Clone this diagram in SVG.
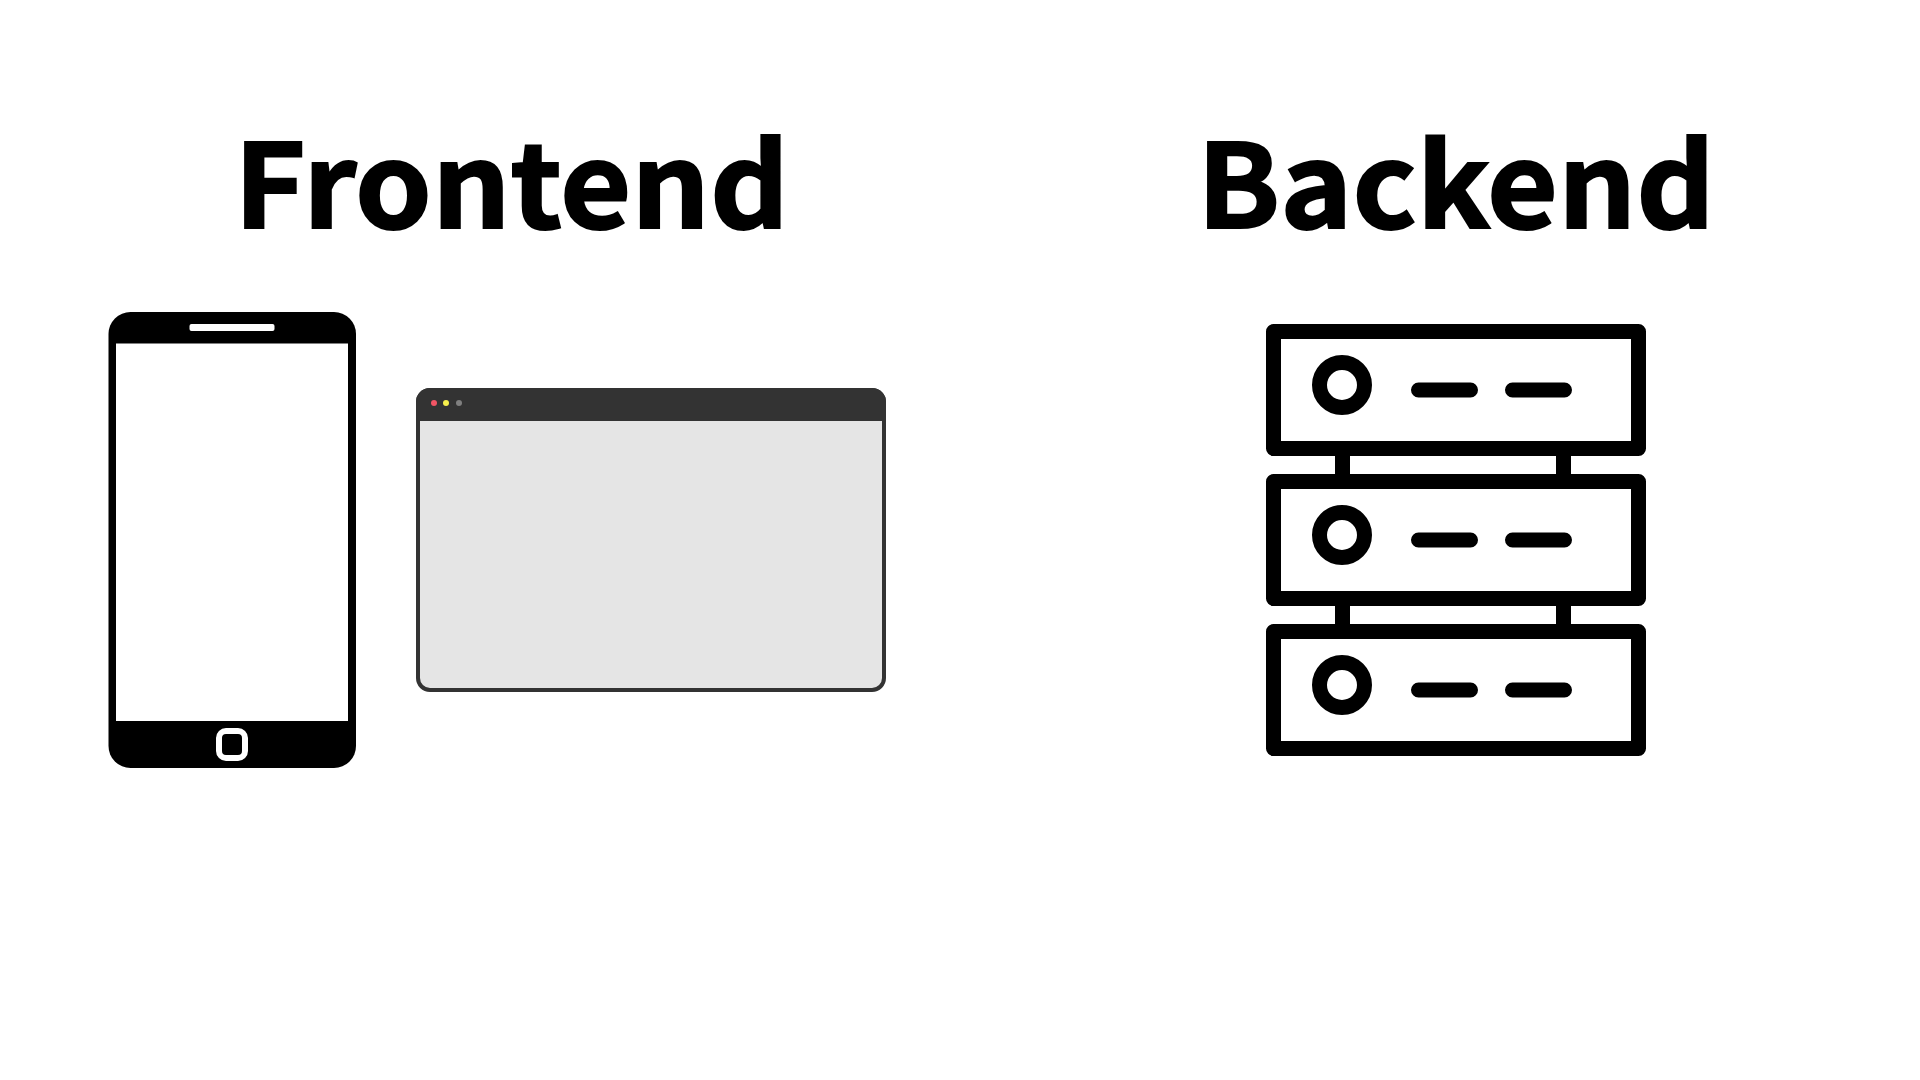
<svg xmlns="http://www.w3.org/2000/svg" width="1920" height="1080" viewBox="0 0 1920 1080">
<style>
.title{font-family:"Noto Sans CJK SC","Noto Sans",sans-serif;font-weight:700;font-size:116px;fill:#000;stroke:#000;stroke-width:2}
.box{fill:#fff;stroke:#000;stroke-width:15;stroke-linejoin:round}
.led{fill:#fff;stroke:#000;stroke-width:15}
.dash{fill:none;stroke:#000;stroke-width:15;stroke-linecap:round}
.link{fill:#000}
</style>
<rect width="1920" height="1080" fill="#fff"/>
<g id="frontend-title"><text class="title" x="234" y="228" textLength="555" lengthAdjust="spacingAndGlyphs">Frontend</text></g>
<g id="backend-title"><text class="title" x="1197" y="228" textLength="518" lengthAdjust="spacingAndGlyphs">Backend</text></g>
<g id="phone">
<rect x="108.500" y="312" width="247.500" height="456" rx="22" fill="#000"/>
<rect x="116" y="343.500" width="232" height="377.500" fill="#fff"/>
<rect x="189.500" y="324" width="85" height="7" rx="2" fill="#fff"/>
<rect x="219" y="731" width="26" height="27" rx="7" fill="#000" stroke="#fff" stroke-width="6"/>
</g>
<g id="browser">
<rect x="418" y="390" width="466" height="300" rx="12" fill="#e5e5e5" stroke="#333" stroke-width="4"/>
<path d="M416 421V402a14 14 0 0 1 14-14H872a14 14 0 0 1 14 14V421Z" fill="#333"/>
<circle cx="434" cy="403" r="3" fill="#f25565"/>
<circle cx="446" cy="403" r="3" fill="#f6f04d"/>
<circle cx="459" cy="403" r="3" fill="#808080"/>
</g>
<g id="connectors">
<rect class="link" x="1335" y="450" width="15" height="30"/>
<rect class="link" x="1556" y="450" width="15" height="30"/>
<rect class="link" x="1335" y="600" width="15" height="30"/>
<rect class="link" x="1556" y="600" width="15" height="30"/>
</g>
<g id="server-1">
<rect class="box" x="1273.500" y="331.500" width="365" height="117"/>
<circle class="led" cx="1342" cy="385" r="22.500"/>
<path class="dash" d="M1418.500 390H1470.500M1512.500 390H1564.500"/>
</g>
<g id="server-2">
<rect class="box" x="1273.500" y="481.500" width="365" height="117"/>
<circle class="led" cx="1342" cy="535" r="22.500"/>
<path class="dash" d="M1418.500 540H1470.500M1512.500 540H1564.500"/>
</g>
<g id="server-3">
<rect class="box" x="1273.500" y="631.500" width="365" height="117"/>
<circle class="led" cx="1342" cy="685" r="22.500"/>
<path class="dash" d="M1418.500 690H1470.500M1512.500 690H1564.500"/>
</g>
</svg>
